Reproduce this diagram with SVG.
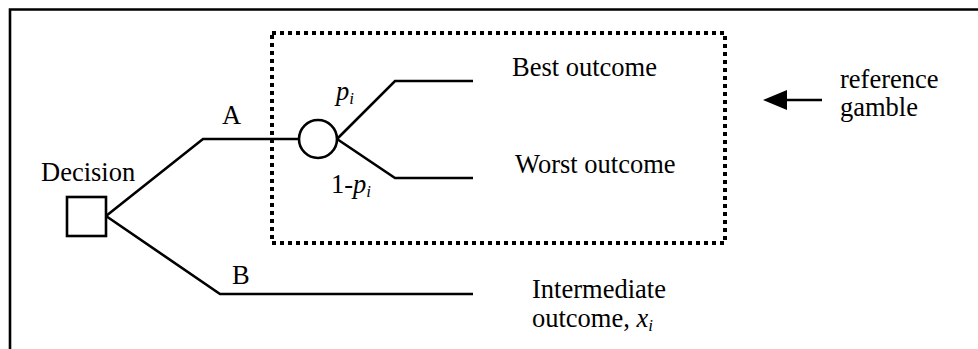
<svg xmlns="http://www.w3.org/2000/svg" width="978" height="349" viewBox="0 0 978 349">
<style>
.t{font-family:"Liberation Serif","Times New Roman",serif;font-size:26.5px;fill:#000}
.i{font-style:italic}
.s{font-size:17px}
.ln{fill:none;stroke:#000;stroke-width:2.6}
</style>
<rect width="978" height="349" fill="#fff"/>
<path d="M10,349 V9.5 H978" fill="none" stroke="#000" stroke-width="2.6"/>
<g id="reference-gamble-box">
<rect x="272" y="33" width="453" height="210" fill="none" stroke="#000" stroke-width="4" stroke-dasharray="4 4"/>
</g>
<g id="connectors">
<polyline class="ln" points="106,216 203,139 299,139"/>
<polyline class="ln" points="106,216 220,294 473,294"/>
<polyline class="ln" points="337,139 395,81 473,81"/>
<polyline class="ln" points="337,139 395,178 473,178"/>
<line x1="822" y1="100" x2="786" y2="100" stroke="#000" stroke-width="2.6"/>
<path d="M787,90 L763,100 L787,110 Z" fill="#000"/>
</g>
<g id="decision">
<rect x="67" y="197" width="39" height="39" fill="#fff" stroke="#000" stroke-width="2.6"/>
<text class="t" x="41" y="181">Decision</text>
</g>
<g id="chance">
<circle cx="318" cy="139" r="19" fill="#fff" stroke="#000" stroke-width="2.6"/>
</g>
<g id="labels">
<text class="t" x="222" y="124">A</text>
<text class="t" x="232" y="284">B</text>
<text class="t" x="336" y="100"><tspan class="i">p</tspan><tspan class="i s" dy="4">i</tspan></text>
<text class="t" x="331" y="193">1-<tspan class="i">p</tspan><tspan class="i s" dy="4">i</tspan></text>
</g>
<g id="best"><text class="t" x="512" y="76">Best outcome</text></g>
<g id="worst"><text class="t" x="515" y="173">Worst outcome</text></g>
<g id="intermediate"><text class="t" x="532" y="298">Intermediate</text>
<text class="t" x="532" y="327">outcome, <tspan class="i">x</tspan><tspan class="i s" dy="4">i</tspan></text></g>
<g id="reference"><text class="t" x="840" y="88">reference</text>
<text class="t" x="840" y="116">gamble</text></g>
</svg>
